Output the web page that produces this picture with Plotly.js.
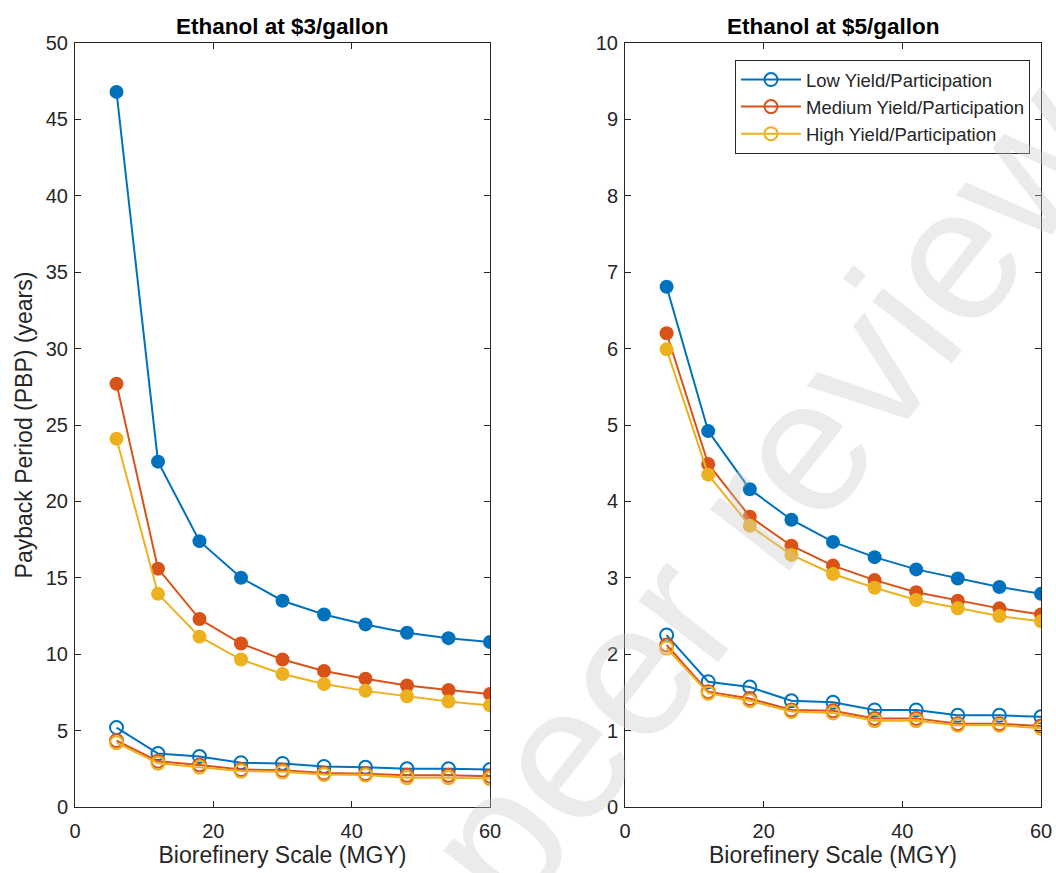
<!DOCTYPE html>
<html>
<head>
<meta charset="utf-8">
<script src="https://cdn.plot.ly/plotly-3.0.1.min.js"></script>
<style>html,body{margin:0;padding:0;background:#fff;}#chart{width:1056px;height:873px;}</style>
</head>
<body>
<div id="chart"></div>
<script>
// Biorefinery scale (MGY)
const scale = [6, 12, 18, 24, 30, 36, 42, 48, 54, 60];
const seriesNames = ["Low Yield/Participation", "Medium Yield/Participation", "High Yield/Participation"];

// Ethanol at $3/gallon — filled markers
const p3LowFilled  = [46.8, 22.6, 17.4, 15.0, 13.5, 12.6, 11.95, 11.4, 11.05, 10.8];
const p3MedFilled  = [27.7, 15.6, 12.3, 10.7, 9.65, 8.9, 8.4, 7.95, 7.65, 7.4];
const p3HighFilled = [24.1, 13.95, 11.15, 9.65, 8.7, 8.05, 7.6, 7.25, 6.9, 6.65];
// Ethanol at $3/gallon — open markers
const p3LowOpen  = [5.2, 3.5, 3.3, 2.9, 2.85, 2.65, 2.6, 2.5, 2.5, 2.45];
const p3MedOpen  = [4.35, 3.0, 2.75, 2.45, 2.4, 2.22, 2.18, 2.07, 2.07, 2.02];
const p3HighOpen = [4.2, 2.87, 2.6, 2.35, 2.3, 2.13, 2.09, 1.92, 1.92, 1.86];

// Ethanol at $5/gallon — filled markers
const p5LowFilled  = [6.81, 4.92, 4.16, 3.76, 3.47, 3.27, 3.11, 2.99, 2.88, 2.79];
const p5MedFilled  = [6.2, 4.49, 3.8, 3.42, 3.16, 2.97, 2.81, 2.7, 2.6, 2.52];
const p5HighFilled = [5.99, 4.35, 3.68, 3.3, 3.05, 2.87, 2.71, 2.6, 2.5, 2.43];
// Ethanol at $5/gallon — open markers
const p5LowOpen  = [2.25, 1.64, 1.57, 1.39, 1.37, 1.27, 1.27, 1.2, 1.2, 1.18];
const p5MedOpen  = [2.12, 1.51, 1.42, 1.27, 1.26, 1.16, 1.16, 1.09, 1.09, 1.06];
const p5HighOpen = [2.08, 1.49, 1.39, 1.25, 1.23, 1.13, 1.13, 1.07, 1.07, 1.03];

const titles = ["Ethanol at $3/gallon", "Ethanol at $5/gallon"];
const xTitle = "Biorefinery Scale (MGY)";
const yTitle = "Payback Period (PBP) (years)";
const watermark = "peer review";
const xTicks = [0, 20, 40, 60];
const y1Ticks = [0, 5, 10, 15, 20, 25, 30, 35, 40, 45, 50];
const y2Ticks = [0, 1, 2, 3, 4, 5, 6, 7, 8, 9, 10];

const colors = ["#0072BD", "#D95319", "#EDB120"];
const FONT = "Liberation Sans, Arial, Helvetica, sans-serif";

function filled(y, i, xa, ya) {
  return {x: scale, y: y, xaxis: xa, yaxis: ya, mode: "lines+markers", type: "scatter",
    line: {color: colors[i], width: 2}, marker: {color: colors[i], size: 14, symbol: "circle"},
    showlegend: false, hoverinfo: "x+y"};
}
function open(y, i, xa, ya, legend) {
  return {x: scale, y: y, xaxis: xa, yaxis: ya, mode: "lines+markers", type: "scatter",
    name: seriesNames[i],
    line: {color: colors[i], width: 2},
    marker: {color: colors[i], size: 13, symbol: "circle-open", line: {width: 2, color: colors[i]}},
    showlegend: legend, hoverinfo: "x+y"};
}

const traces = [
  filled(p3LowFilled, 0, "x", "y"), filled(p3MedFilled, 1, "x", "y"), filled(p3HighFilled, 2, "x", "y"),
  open(p3LowOpen, 0, "x", "y", false), open(p3MedOpen, 1, "x", "y", false), open(p3HighOpen, 2, "x", "y", false),
  filled(p5LowFilled, 0, "x2", "y2"), filled(p5MedFilled, 1, "x2", "y2"), filled(p5HighFilled, 2, "x2", "y2"),
  open(p5LowOpen, 0, "x2", "y2", true), open(p5MedOpen, 1, "x2", "y2", true), open(p5HighOpen, 2, "x2", "y2", true)
];

const axisCommon = {
  showgrid: false, zeroline: false, showline: true, mirror: "ticks",
  linecolor: "#262626", linewidth: 1, ticks: "inside", ticklen: 6, tickwidth: 1, tickcolor: "#262626",
  tickfont: {family: FONT, size: 20, color: "#262626"}
};
const titleFont = {family: FONT, size: 23, color: "#262626"};
const W = 1056, H = 873;
const yDom = [1 - 807 / H, 1 - 43 / H];

const layout = {
  width: W, height: H,
  margin: {l: 0, r: 0, t: 0, b: 0},
  paper_bgcolor: "#ffffff", plot_bgcolor: "#ffffff",
  font: {family: FONT, color: "#262626"},
  showlegend: true,
  legend: {x: 1030 / W, y: 1 - 60 / H, xanchor: "right", yanchor: "top",
    bgcolor: "#ffffff", bordercolor: "#262626", borderwidth: 1, itemwidth: 60,
    font: {family: FONT, size: 18.5, color: "#262626"}, tracegroupgap: 0},
  xaxis: Object.assign({}, axisCommon, {domain: [75 / W, 490 / W], range: [0, 60], tickvals: xTicks,
    ticklabelstandoff: 6, title: {text: xTitle, font: titleFont, standoff: 4}}),
  yaxis: Object.assign({}, axisCommon, {domain: yDom, range: [0, 50], tickvals: y1Ticks,
    ticklabelstandoff: 2, title: {text: yTitle, font: titleFont, standoff: 6}}),
  xaxis2: Object.assign({}, axisCommon, {domain: [625 / W, 1041 / W], range: [0, 60], tickvals: xTicks, anchor: "y2",
    ticklabelstandoff: 6, title: {text: xTitle, font: titleFont, standoff: 4}}),
  yaxis2: Object.assign({}, axisCommon, {domain: yDom, range: [0, 10], tickvals: y2Ticks, anchor: "x2",
    ticklabelstandoff: 2}),
  annotations: [
    {text: "<b>" + titles[0] + "</b>", xref: "paper", yref: "paper", x: (75 + 490) / 2 / W, y: 1 - 26 / H,
      xanchor: "center", yanchor: "middle", showarrow: false, font: {family: FONT, size: 22.5, color: "#000"}},
    {text: "<b>" + titles[1] + "</b>", xref: "paper", yref: "paper", x: (625 + 1041) / 2 / W, y: 1 - 26 / H,
      xanchor: "center", yanchor: "middle", showarrow: false, font: {family: FONT, size: 22.5, color: "#000"}},
    {text: watermark, xref: "paper", yref: "paper", x: 765 / W, y: 1 - 495 / H,
      xanchor: "center", yanchor: "middle", showarrow: false, textangle: -52,
      font: {family: FONT, size: 190, color: "rgba(200,200,200,0.36)"}}
  ]
};

Plotly.newPlot("chart", traces, layout, {displayModeBar: false, staticPlot: true});
</script>
</body>
</html>
